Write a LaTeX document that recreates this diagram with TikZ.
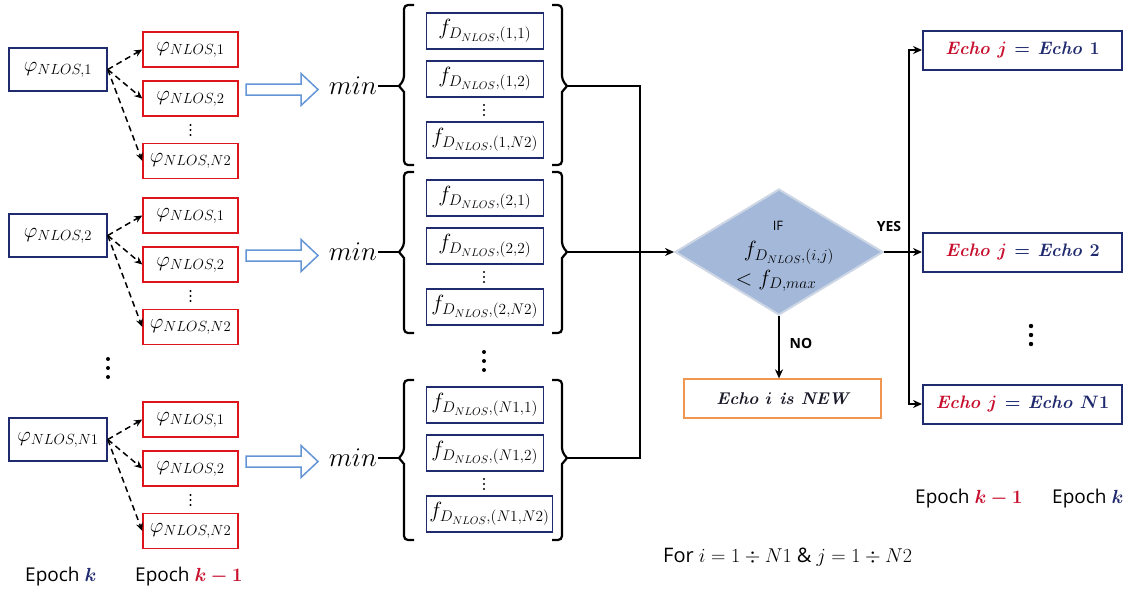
\RequirePackage{fix-cm}
\documentclass[tikz,border=0pt]{standalone}
\usepackage{fontspec}
\setsansfont{Open Sans}
\usepackage{bm}
\usetikzlibrary{shapes.geometric,arrows.meta}
\definecolor{navy}{RGB}{32,42,110}
\definecolor{boxred}{RGB}{222,22,28}
\definecolor{echored}{RGB}{200,16,46}
\definecolor{harrowblue}{RGB}{100,150,215}
\definecolor{neworange}{RGB}{240,150,80}
\definecolor{dfill}{RGB}{164,185,218}
\definecolor{dedge}{RGB}{205,214,228}
\definecolor{newtext}{RGB}{25,25,40}
\newcommand\setfs[1]{\fontsize{#1}{#1}\selectfont}
\newcommand\mydots[4]{\fill (#1,{#2-#3}) circle (#4pt) (#1,{#2}) circle (#4pt) (#1,{#2+#3}) circle (#4pt);}
\newcommand\echolbl[1]{\textcolor{echored}{Echo $\bm{j}$} \textcolor{navy}{$\bm{=}$ Echo $\bm{#1}$}}
\tikzset{harrow/.pic={\draw[draw=harrowblue,line width=1.5pt,fill=white,line join=miter]
  (0,-5.5) -- (55,-5.5) -- (55,-16) -- (72,0) -- (55,16) -- (55,5.5) -- (0,5.5) -- cycle;}}
\begin{document}
\begin{tikzpicture}[x=1pt,y=-1pt,
  bluebox/.style={draw=navy,line width=1.5pt,minimum width=98pt,minimum height=43pt,inner sep=0pt,font=\setfs{21}},
  redbox/.style={draw=boxred,line width=1.5pt,minimum width=95pt,minimum height=35pt,inner sep=0pt,font=\setfs{21}},
  fbox/.style={draw=navy,line width=1.5pt,minimum width=117pt,minimum height=36pt,inner ysep=0pt,inner xsep=3pt,font=\setfs{22}},
  echobox/.style={draw=navy,line width=2pt,minimum width=199pt,minimum height=39pt,inner sep=0pt,font=\setfs{18}\bfseries\itshape},
  conn/.style={line width=2.2pt,black},
  tip/.style={-{Stealth[length=9pt,width=8pt]}},
  dasharrow/.style={line width=1.5pt,dash pattern=on 6pt off 4pt,-{Stealth[length=8pt,width=7pt]}},
  brk/.style={line width=2.2pt,rounded corners=4pt},
  lbl/.style={font=\sffamily\bfseries\setfs{14}},
  epoch/.style={font=\sffamily\setfs{19},anchor=base west,inner sep=0pt},
]
\fill[white] (0,0) rectangle (1129,590);
\useasboundingbox (0,0) rectangle (1129,590);

\foreach \g/\oa/\lab/\fo/\yt/\ym/\yb in {1/0/1/0/5/86/165, 2/166/2/167/172/252/333, 3/370/N1/374/380/458/540}{
  % epoch k and epoch k-1 values
  \node[bluebox] (b\g) at (58,{69.5+\oa}) {$\varphi_{NLOS,\lab}$};
  \node[redbox] (r\g a) at (190.5,{49.5+\oa}) {$\varphi_{NLOS,1}$};
  \node[redbox] (r\g b) at (190.5,{98.5+\oa}) {$\varphi_{NLOS,2}$};
  \node[redbox] (r\g c) at (190.5,{161+\oa}) {$\varphi_{NLOS,N2}$};
  \draw[dasharrow] (b\g.east) -- (r\g a.west);
  \draw[dasharrow] (b\g.east) -- (r\g b.west);
  \draw[dasharrow] (b\g.east) -- (r\g c.west);
  \mydots{190.5}{130+\oa}{5}{1.2}
  % hollow arrow and min
  \pic at (246,{\ym+3.5}) {harrow};
  \node[font=\setfs{27},anchor=east,inner sep=1pt] (m\g) at (378,\ym) {$min$};
  % brackets
  \coordinate (L\g) at (399,\ym);
  \coordinate (R\g) at (567,\ym);
  \draw[brk] (414,\yt) -- (404,\yt) -- (404,{\ym-6}) [sharp corners] -- (L\g) -- (404,{\ym+6}) [rounded corners=4pt] -- (404,\yb) -- (414,\yb);
  \draw[brk] (552,\yt) -- (562,\yt) -- (562,{\ym-6}) [sharp corners] -- (R\g) -- (562,{\ym+6}) [rounded corners=4pt] -- (562,\yb) -- (552,\yb);
  \draw[conn] (m\g.east) -- (L\g);
  % f boxes
  \node[fbox,anchor=west] (f\g a) at (425.5,{31+\fo}) {$f_{D_{NLOS},(\lab,1)}$};
  \node[fbox,anchor=west] (f\g b) at (425.5,{79+\fo}) {$f_{D_{NLOS},(\lab,2)}$};
  \node[fbox,anchor=west] (f\g c) at (425.5,{140+\fo}) {$f_{D_{NLOS},(\lab,N2)}$};
  \mydots{484}{110+\fo}{5}{1.2}
}
\mydots{108}{368}{9}{2}
\mydots{484}{361}{9}{2}

% decision
\node[diamond,draw=dedge,line width=2pt,fill=dfill,minimum width=208pt,minimum height=126pt,inner sep=0pt] (D) at (779,252) {};
\node[font=\sffamily\setfs{13}] (dif) at (778,226) {IF};
\node[font=\setfs{22}] (dcond) at (789,253) {$f_{D_{NLOS},(i,j)}$};
\node[font=\setfs{22}] (dmax) at (776,281) {$<f_{D,max}$};

\coordinate (cj) at (640,252);
\draw[conn] (R1) -| (cj);
\draw[conn] (R3) -| (cj);
\draw[conn,tip] (R2) -- (D.west);

% NO branch
\node[draw=neworange,line width=1.3pt,minimum width=197pt,minimum height=39pt,inner sep=0pt,font=\setfs{17}\bfseries\itshape,text=newtext] (new) at (782.5,398.5) {Echo $\bm{i}$ is NEW};
\draw[conn,tip] (D.south) -- (D.south |- new.north);
\node[lbl] (no) at (801,343) {NO};

% YES branch
\node[echobox] (e1) at (1022.5,50) {\echolbl{1}};
\node[echobox] (e2) at (1022.5,252) {\echolbl{2}};
\node[echobox] (e3) at (1022.5,404) {\echolbl{N1}};
\coordinate (yj) at (909,252);
\draw[conn,tip] (D.east) -- (e2.west);
\draw[conn,tip] (yj) |- (e1.west);
\draw[conn,tip] (yj) |- (e3.west);
\node[lbl] (yes) at (889,226) {YES};
\mydots{1031}{335}{9}{2.2}

% legends
\node[epoch] (ek) at (25,581) {Epoch \textcolor{navy}{$\bm{k}$}};
\node[epoch] (ekm) at (135,581) {Epoch \textcolor{echored}{$\bm{k-1}$}};
\node[epoch] (rkm) at (915,503) {Epoch \textcolor{echored}{$\bm{k-1}$}};
\node[epoch] (rk) at (1052,503) {Epoch \textcolor{navy}{$\bm{k}$}};
\node[font=\sffamily\setfs{20},anchor=base west,inner sep=0pt] (forl) at (663,562) {For $i=1\div N1$ \& $j=1\div N2$};
\end{tikzpicture}
\end{document}
